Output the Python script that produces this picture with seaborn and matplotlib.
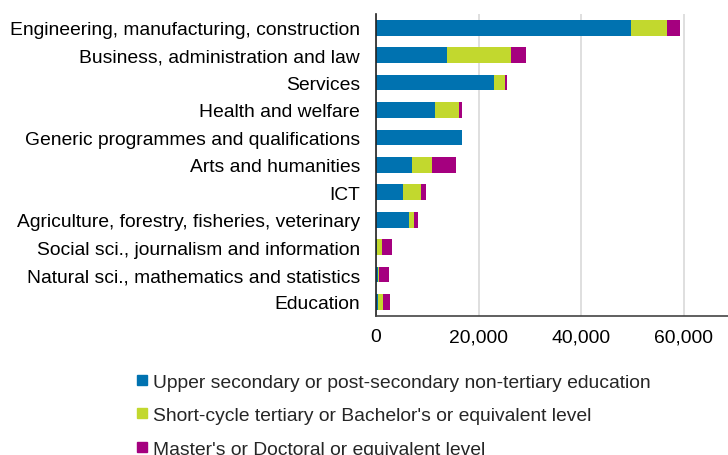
import matplotlib
matplotlib.use("Agg")
import matplotlib.pyplot as plt
from matplotlib.lines import Line2D
import seaborn as sns
import pandas as pd
import numpy as np

categories = [
    "Engineering, manufacturing, construction",
    "Business, administration and law",
    "Services",
    "Health and welfare",
    "Generic programmes and qualifications",
    "Arts and humanities",
    "ICT",
    "Agriculture, forestry, fisheries, veterinary",
    "Social sci., journalism and information",
    "Natural sci., mathematics and statistics",
    "Education",
]
upper_secondary = [49700, 13800, 22900, 11500, 16800, 7100, 5200, 6500, 100, 300, 450]
bachelor = [6900, 12450, 2200, 4700, 0, 3800, 3500, 850, 1100, 330, 900]
master = [2600, 2950, 400, 650, 0, 4700, 1000, 750, 1900, 1950, 1300]
series_labels = [
    "Upper secondary or post-secondary non-tertiary education",
    "Short-cycle tertiary or Bachelor's or equivalent level",
    "Master's or Doctoral or equivalent level",
]
colors = ["#0072b0", "#c2d82e", "#a5007f"]
xticks = [0, 20000, 40000, 60000]
xtick_labels = ["0", "20,000", "40,000", "60,000"]

sns.set_style("white")
plt.rcParams["font.family"] = ["Liberation Sans", "DejaVu Sans"]

df = pd.DataFrame({
    "category": categories,
    "s1": upper_secondary,
    "s2": bachelor,
    "s3": master,
})
df["c1"] = df["s1"]
df["c2"] = df["s1"] + df["s2"]
df["c3"] = df["c2"] + df["s3"]

FS = 13.9

fig = plt.figure(figsize=(7.28, 4.56), dpi=100)
ax = fig.add_axes([376 / 728, (456 - 316.7) / 456, 1 - 376 / 728 + 0.01, (316.7 - 15) / 456])

for col, color in zip(["c3", "c2", "c1"], [colors[2], colors[1], colors[0]]):
    sns.barplot(data=df, x=col, y="category", orient="h", color=color,
                width=0.57, ax=ax, saturation=1, linewidth=0, order=categories)

ax.set_xlim(0, 70000)
ax.set_ylim(10.5, -0.5)
ax.set_xticks(xticks)
ax.set_xticklabels(xtick_labels)
ax.set_xlabel("")
ax.set_ylabel("")
ax.tick_params(axis="both", labelsize=FS, length=0, colors="#000000")
ax.tick_params(axis="x", pad=9)
ax.tick_params(axis="y", pad=11.5)
ax.grid(axis="x", color="#d9d9d9", linewidth=1.2)
ax.set_axisbelow(True)
for s in ["top", "right"]:
    ax.spines[s].set_visible(False)
ax.spines["left"].set_color("#222222")
ax.spines["left"].set_linewidth(1.2)
ax.spines["bottom"].set_color("#444444")
ax.spines["bottom"].set_linewidth(1.2)

handles = [Line2D([0], [0], marker="s", linestyle="", markersize=6.5,
                  markerfacecolor=c, markeredgecolor=c) for c in colors]
fig.legend(handles, series_labels, loc="upper left",
           bbox_to_anchor=(137 / 728, 1 - 374 / 456), frameon=False,
           fontsize=FS, handlelength=0.55, handletextpad=0.3,
           labelspacing=0.83, borderpad=0, borderaxespad=0)

fig.savefig("out.png", dpi=100)
